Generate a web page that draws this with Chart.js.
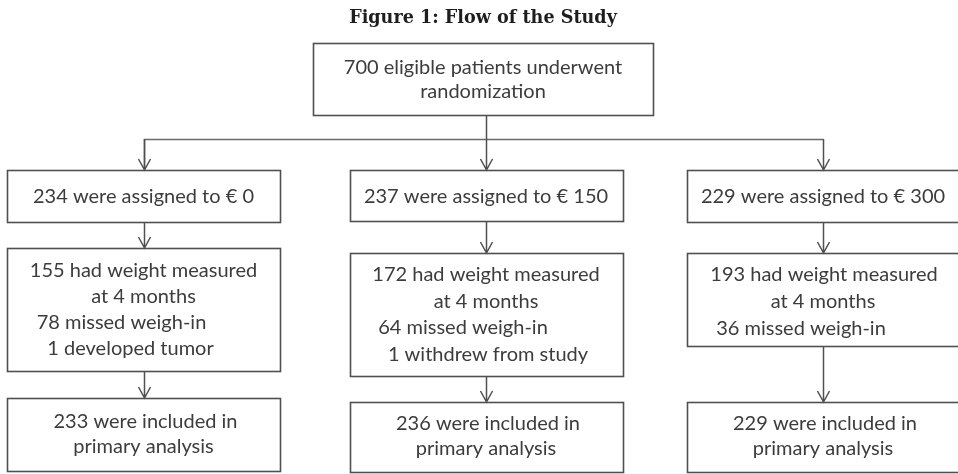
<!DOCTYPE html>
<html>
<head>
<meta charset="utf-8">
<script src="https://cdn.jsdelivr.net/npm/chart.js@4/dist/chart.umd.min.js"></script>
<style>
  html, body { margin: 0; padding: 0; background: #fff; }
  canvas { display: block; }
</style>
</head>
<body>
<canvas id="flow" width="958" height="474"></canvas>
<script>
// study numbers
const title = "Figure 1: Flow of the Study";
const randomized = 700;
const arms = ["€ 0", "€ 150", "€ 300"];
const assigned = [234, 237, 229];
const measured = [155, 172, 193];
const missed = [78, 64, 36];
const otherLoss = ["1 developed tumor", "1 withdrew from study", null];
const analyzed = [233, 236, 229];

// layout, in the same units as the hidden axes (0..958 x 0..474)
const col = [
  { left: 7, right: 280, cx: 143.5 },
  { left: 350, right: 623, cx: 486 },
  { left: 687, right: 964, cx: 823 }
];
const topBox = { left: 313, right: 653, top: 43, bottom: 115 };
const row1 = [[170, 222], [170, 221], [170, 222]];
const row2 = [[248, 371], [253, 376], [253, 346]];
const row3 = [[398, 471], [402, 472], [402, 472]];
const row2Lines = [[271, 297, 323, 349], [275, 302, 328, 355], [275, 302, 329]];
const row2Shift = [[0, 0, -22, -13], [0, 0, -23, 2], [1, 0, -22]];
const row3Lines = [[422, 447], [424, 449], [424, 449]];
const busY = 139;

const BODY = '"Lato", "Open Sans", sans-serif';
const LINE = "#505050";
const INK = "#3c3c3c";

const flowPlugin = {
  id: "flow",
  afterDraw(chart) {
    const c = chart.ctx;
    const X = v => chart.scales.x.getPixelForValue(v);
    const Y = v => chart.scales.y.getPixelForValue(v);

    function box(l, r, t, b) {
      c.strokeStyle = LINE;
      c.lineWidth = 1.6;
      c.strokeRect(Math.round(X(l)) + 0.5, Math.round(Y(t)) + 0.5,
        Math.round(X(r) - X(l)), Math.round(Y(b) - Y(t)));
    }
    function text(s, x, y) {
      c.fillStyle = INK;
      c.font = "20px " + BODY;
      c.textAlign = "center";
      c.textBaseline = "middle";
      c.fillText(s, X(x), Y(y));
    }
    function arrow(x, y1, y2) {
      const px = Math.round(X(x)) + 0.5;
      c.strokeStyle = LINE;
      c.lineWidth = 1.5;
      c.beginPath();
      c.moveTo(px, Y(y1));
      c.lineTo(px, Y(y2));
      c.moveTo(px - 6, Y(y2) - 11);
      c.lineTo(px, Y(y2));
      c.lineTo(px + 6, Y(y2) - 11);
      c.stroke();
    }

    c.save();
    // title
    c.fillStyle = "#1e1e1e";
    c.font = 'bold 17.6px "DejaVu Serif", serif';
    c.textAlign = "center";
    c.textBaseline = "middle";
    c.fillText(title, X(483), Y(18));

    // randomization box
    box(topBox.left, topBox.right, topBox.top, topBox.bottom);
    text(randomized + " eligible patients underwent", 483, 68);
    text("randomization", 483, 92);

    // split into the three arms
    c.strokeStyle = "#6a6a6a";
    c.lineWidth = 1.5;
    c.beginPath();
    c.moveTo(Math.round(X(col[0].cx)) + 0.5, Y(row1[0][0]) - 1);
    c.lineTo(Math.round(X(col[0].cx)) + 0.5, Math.round(Y(busY)) + 0.5);
    c.lineTo(Math.round(X(col[2].cx)) + 0.5, Math.round(Y(busY)) + 0.5);
    c.stroke();
    arrow(col[0].cx, busY, row1[0][0]);
    arrow(col[2].cx, busY, row1[2][0]);
    arrow(col[1].cx, topBox.bottom, row1[1][0]);

    col.forEach((k, i) => {
      box(k.left, k.right, row1[i][0], row1[i][1]);
      text(assigned[i] + " were assigned to " + arms[i], k.cx, (row1[i][0] + row1[i][1]) / 2 + 1);
      arrow(k.cx, row1[i][1], row2[i][0]);

      box(k.left, k.right, row2[i][0], row2[i][1]);
      const lines = [measured[i] + " had weight measured", "at 4 months", missed[i] + " missed weigh-in"];
      if (otherLoss[i]) lines.push(otherLoss[i]);
      lines.forEach((s, j) => text(s, k.cx + row2Shift[i][j], row2Lines[i][j]));
      arrow(k.cx, row2[i][1], row3[i][0]);

      box(k.left, k.right, row3[i][0], row3[i][1]);
      text(analyzed[i] + " were included in", k.cx + 2, row3Lines[i][0]);
      text("primary analysis", k.cx, row3Lines[i][1]);
    });
    c.restore();
  }
};

function build() {
  new Chart(document.getElementById("flow").getContext("2d"), {
    type: "scatter",
    data: { datasets: [{ data: [], pointRadius: 0 }] },
    options: {
      responsive: false,
      animation: false,
      devicePixelRatio: 1,
      layout: { padding: 0 },
      plugins: { legend: { display: false }, tooltip: { enabled: false } },
      scales: {
        x: { type: "linear", min: 0, max: 958, display: false },
        y: { type: "linear", min: 0, max: 474, reverse: true, display: false }
      }
    },
    plugins: [flowPlugin]
  });
}

Promise.all([
  document.fonts.load("20px Lato"),
  document.fonts.load('bold 17.6px "DejaVu Serif"')
]).then(build, build);
</script>
</body>
</html>
